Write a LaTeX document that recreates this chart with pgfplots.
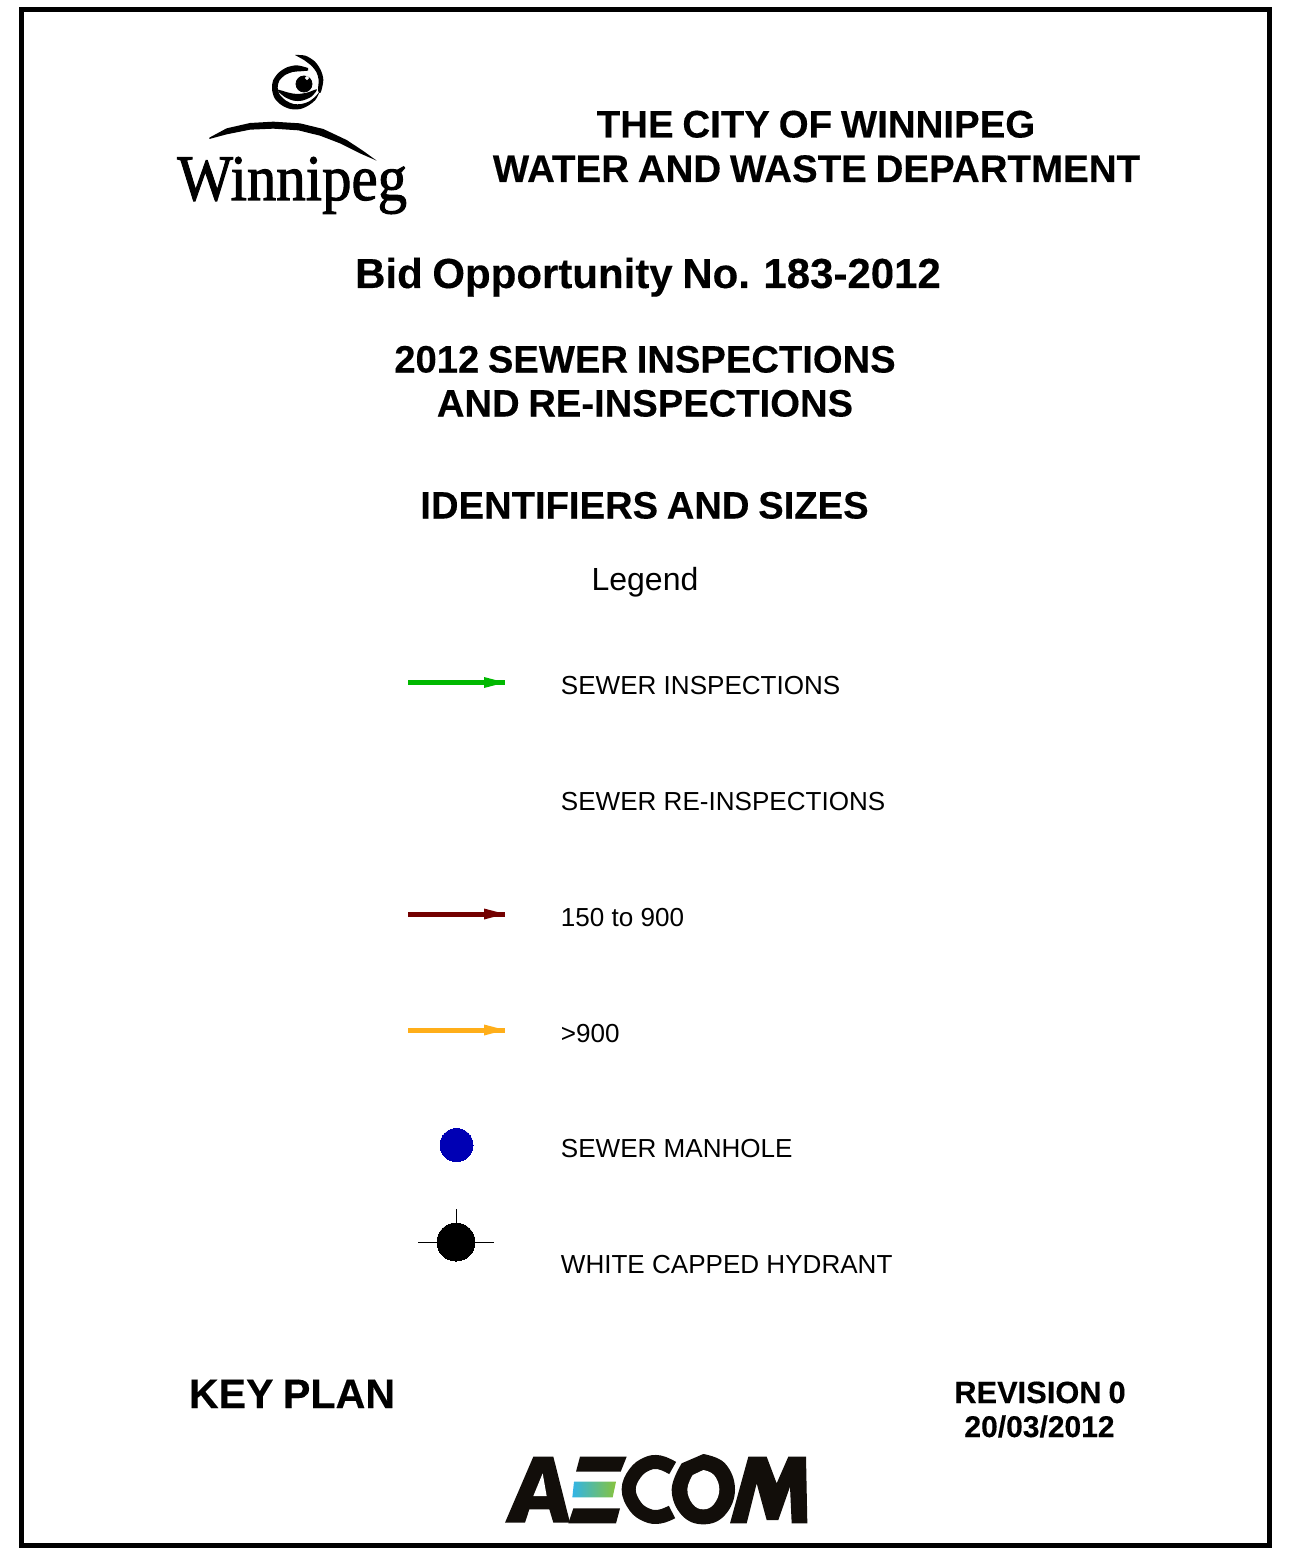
\documentclass[border=0pt]{standalone}
\usepackage{fontspec}
\setmainfont[BoldFeatures={WordSpace=0.82,FakeBold=0.25}]{Liberation Sans}
\newfontfamily\logofont[FakeBold=1.6]{Liberation Serif}
\usepackage{pgfplots}
\pgfplotsset{compat=1.18}

\definecolor{insp}{RGB}{0,184,0}
\definecolor{pipesmall}{RGB}{115,0,0}
\definecolor{pipelarge}{RGB}{255,174,25}
\definecolor{manhole}{RGB}{0,0,180}
\definecolor{aecomblue}{RGB}{50,180,230}
\definecolor{aecomgreen}{RGB}{135,195,60}
\definecolor{aecomblack}{RGB}{18,14,10}

% text at pixel position: x, baseline y, anchor, size, text
\newcommand{\txt}[5]{\node[anchor=base #3,inner sep=0pt,font=\fontsize{#4}{#4}\selectfont] at (axis cs:#1,#2) {#5};}

\begin{document}
\begin{tikzpicture}
\begin{axis}[
    scale only axis, width=646pt, height=778pt,
    xmin=0, xmax=1292, ymin=0, ymax=1556,
    y dir=reverse, hide axis, clip=false,
]
% keeps the page as large as the reference
\path (rel axis cs:0,0) rectangle (rel axis cs:1,1);
% frame
\addplot[black, line width=2.5pt, line join=miter] coordinates {(21.5,10) (1269.5,10) (1269.5,1545.5) (21.5,1545.5)} -- cycle;

% Winnipeg emblem, read from the 3x crop at (262,50)
\addplot[fill=black, draw=none, smooth, tension=0.5] table[x expr=262+\thisrowno{0}/3, y expr=50+\thisrowno{1}/3] {
99 15
130 17
158 34
176 60
184 90
176 128
168 122
170 90
163 66
148 47
126 30
};
\addplot[fill=black, draw=none, smooth, tension=0.5] table[x expr=262+\thisrowno{0}/3, y expr=50+\thisrowno{1}/3] {
138 54
105 46
75 52
50 68
33 92
30 118
38 145
58 165
85 177
115 177
140 166
160 150
173 125
160 140
140 155
118 162
95 162
72 152
52 132
47 112
52 92
68 76
92 66
115 64
138 62
} -- cycle;
\addplot[fill=black, draw=none, smooth, tension=0.5] table[x expr=262+\thisrowno{0}/3, y expr=50+\thisrowno{1}/3] {
45 118
60 122
80 128
105 132
135 128
165 118
148 140
120 152
95 152
70 142
52 128
} -- cycle;
\addplot[only marks, mark=*, mark size=4pt, black] coordinates {(304,84)};
\addplot[only marks, mark=*, mark size=0.8pt, white, mark options={draw=white,fill=white}] coordinates {(307,78)};
% arch
\addplot[fill=black, draw=none] table[x expr=170+\thisrowno{0}/3, y expr=115+\thisrowno{1}/3] {
118 68
170 40
240 24
310 20
390 25
460 42
530 75
580 108
620 137
570 115
510 85
450 62
385 46
310 41
240 44
170 58
118 72
} -- cycle;
\node[anchor=base west,inner sep=0pt] at (axis cs:177,200) {\scalebox{0.905}[1]{\fontsize{32.5}{32.5}\logofont Winnipeg}};

% titles
\txt{816}{137.5}{}{19.22}{\bfseries THE CITY OF WINNIPEG}
\txt{816.5}{182}{}{19.25}{\bfseries WATER AND WASTE DEPARTMENT}
\txt{648}{288}{}{21}{\bfseries Bid Opportunity No. 183-2012}
\txt{645}{372.5}{}{19.1}{\bfseries 2012 SEWER INSPECTIONS}
\txt{645}{416.5}{}{19.1}{\bfseries AND RE-INSPECTIONS}
\txt{644.5}{518.5}{}{19.1}{\bfseries IDENTIFIERS AND SIZES}
\txt{645}{590}{}{16}{Legend}

% legend rows
\addplot[insp, line width=2.5pt] coordinates {(408,682.5) (505,682.5)};
\addplot[fill=insp, draw=none] coordinates {(484,677) (505,682.5) (484,688)} -- cycle;
\addplot[pipesmall, line width=2.5pt] coordinates {(408,914) (505,914)};
\addplot[fill=pipesmall, draw=none] coordinates {(484,908.5) (505,914) (484,919.5)} -- cycle;
\addplot[pipelarge, line width=2.5pt] coordinates {(408,1030) (505,1030)};
\addplot[fill=pipelarge, draw=none] coordinates {(484,1024.5) (505,1030) (484,1035.5)} -- cycle;
\addplot[only marks, mark=*, mark size=8.25pt, mark options={draw=manhole, fill=manhole, line width=0pt}] coordinates {(456.5,1145)};
\addplot[black, line width=0.5pt] coordinates {(418,1242) (494,1242)};
\addplot[black, line width=0.5pt] coordinates {(456,1209) (456,1242)};
\addplot[only marks, mark=*, mark size=9.5pt, mark options={draw=black, fill=black, line width=0pt}] coordinates {(456,1242)};

\txt{560.5}{694}{west}{13.03}{SEWER INSPECTIONS}
\txt{560.5}{810}{west}{13.03}{SEWER RE-INSPECTIONS}
\txt{560.5}{926}{west}{13.03}{150 to 900}
\txt{560.5}{1042}{west}{13.03}{>900}
\txt{560.5}{1157}{west}{13.03}{SEWER MANHOLE}
\txt{560.5}{1273}{west}{13.03}{WHITE CAPPED HYDRANT}

% footer
\txt{292}{1408}{}{20.6}{\bfseries KEY PLAN}
\txt{1040}{1403}{}{15.4}{\bfseries REVISION 0}
\txt{1039.5}{1437}{}{15}{\bfseries 20/03/2012}

% AECOM logo, read from the 3x crop at (490,1440)
\addplot[fill=aecomblack, draw=none] table[x expr=490+\thisrowno{0}/3, y expr=1440+\thisrowno{1}/3] {
45 248
105 248
118 208
178 208
190 248
240 248
190 50
130 50
} -- cycle;
\addplot[fill=white, draw=none] table[x expr=490+\thisrowno{0}/3, y expr=1440+\thisrowno{1}/3] {
130 168
158 100
170 168
} -- cycle;
\addplot[fill=aecomblack, draw=none] table[x expr=490+\thisrowno{0}/3, y expr=1440+\thisrowno{1}/3] {
270 50
410 50
392 95
258 95
} -- cycle;
\addplot[left color=aecomblue, right color=aecomgreen, draw=none] table[x expr=490+\thisrowno{0}/3, y expr=1440+\thisrowno{1}/3] {
252 125
378 125
368 172
247 172
} -- cycle;
\addplot[fill=aecomblack, draw=none] table[x expr=490+\thisrowno{0}/3, y expr=1440+\thisrowno{1}/3] {
250 205
390 205
378 250
235 250
} -- cycle;
% C as one thick stroke
\addplot[aecomblack, line width=7pt, smooth, tension=0.7] table[x expr=490+\thisrowno{0}/3, y expr=1440+\thisrowno{1}/3] {
548 84
508 67
470 72
435 100
416 148
435 198
470 225
508 230
546 216
};
\addplot[fill=aecomblack, draw=none, smooth, tension=0.7] table[x expr=490+\thisrowno{0}/3, y expr=1440+\thisrowno{1}/3] {
640 42
705 70
735 148
705 225
640 253
575 225
545 148
575 70
} -- cycle;
\addplot[fill=white, draw=none, smooth, tension=0.7] table[x expr=490+\thisrowno{0}/3, y expr=1440+\thisrowno{1}/3] {
640 90
672 105
688 148
672 192
640 208
608 192
592 148
608 105
} -- cycle;
\addplot[fill=aecomblack, draw=none] table[x expr=490+\thisrowno{0}/3, y expr=1440+\thisrowno{1}/3] {
720 250
775 50
830 50
860 130
895 50
948 50
952 250
905 250
900 140
865 240
830 240
800 130
770 250
} -- cycle;
\end{axis}
\end{tikzpicture}
\end{document}
